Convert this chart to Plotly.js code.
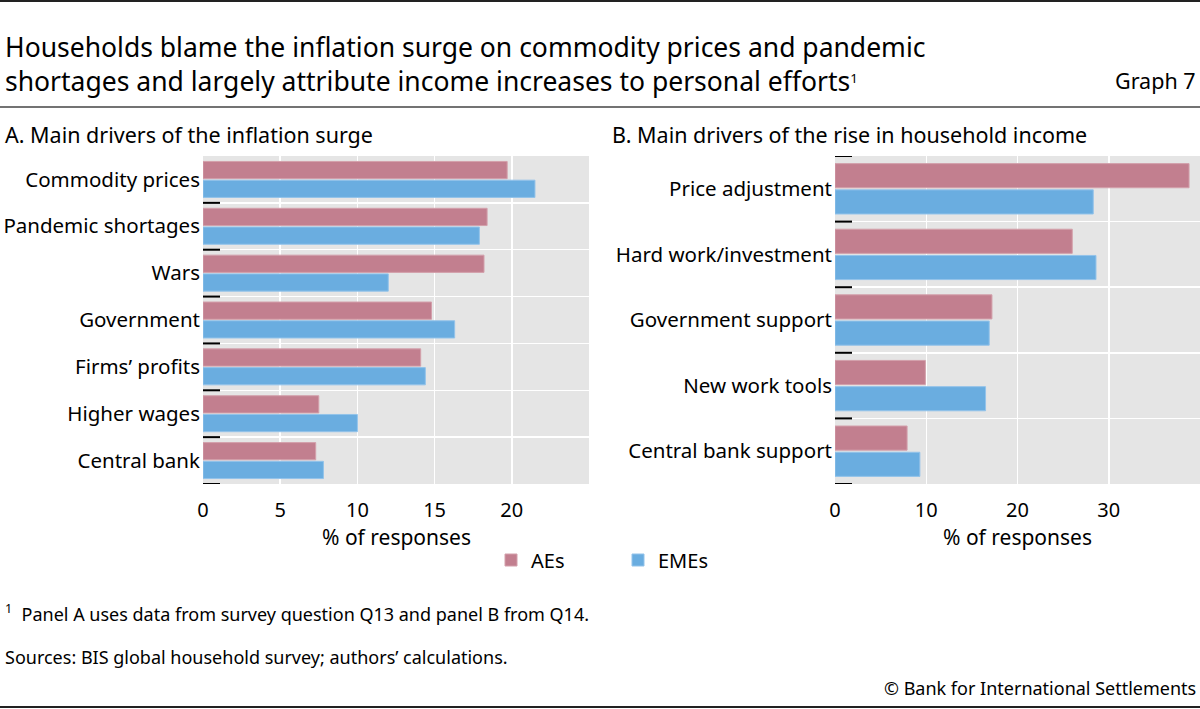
<!DOCTYPE html>
<html>
<head>
<meta charset="utf-8">
<script src="https://cdn.plot.ly/plotly-3.0.1.min.js"></script>
<style>html,body{margin:0;padding:0;background:#fff;}#chart{width:1200px;height:709px;}</style>
</head>
<body>
<div id="chart"></div>
<script>
// ---- data ----
var catsA = ['Commodity prices', 'Pandemic shortages', 'Wars', 'Government', 'Firms\u2019 profits', 'Higher wages', 'Central bank'];
var aeA   = [19.7, 18.4, 18.2, 14.8, 14.1, 7.5, 7.3];
var emeA  = [21.5, 17.9, 12.0, 16.3, 14.4, 10.0, 7.8];

var catsB = ['Price adjustment', 'Hard work/investment', 'Government support', 'New work tools', 'Central bank support'];
var aeB   = [38.8, 26.0, 17.2, 9.9, 7.9];
var emeB  = [28.3, 28.6, 16.9, 16.5, 9.3];

var seriesNames = ['AEs', 'EMEs'];
var ticksA = [0, 5, 10, 15, 20];
var ticksB = [0, 10, 20, 30];

// ---- styling ----
var W = 1200, H = 709;
var FONT = 'Noto Sans, Open Sans, sans-serif';
var PINK = '#c27f8f', BLUE = '#6aade0';
var PINK_LINE = '#d3a0ab', BLUE_LINE = '#93c3ea';
function px(x) { return x / W; }
function py(y) { return 1 - y / H; }

var traces = [
  {type: 'bar', orientation: 'h', y: catsA, x: aeA, name: seriesNames[0], xaxis: 'x', yaxis: 'y',
   marker: {color: PINK, line: {color: PINK_LINE, width: 1}}, legendgroup: 'ae', showlegend: true, hoverinfo: 'skip'},
  {type: 'bar', orientation: 'h', y: catsA, x: emeA, name: seriesNames[1], xaxis: 'x', yaxis: 'y',
   marker: {color: BLUE, line: {color: BLUE_LINE, width: 1}}, legendgroup: 'eme', showlegend: true, hoverinfo: 'skip'},
  {type: 'bar', orientation: 'h', y: catsB, x: aeB, name: seriesNames[0], xaxis: 'x2', yaxis: 'y2',
   marker: {color: PINK, line: {color: PINK_LINE, width: 1}}, legendgroup: 'ae', showlegend: false, hoverinfo: 'skip'},
  {type: 'bar', orientation: 'h', y: catsB, x: emeB, name: seriesNames[1], xaxis: 'x2', yaxis: 'y2',
   marker: {color: BLUE, line: {color: BLUE_LINE, width: 1}}, legendgroup: 'eme', showlegend: false, hoverinfo: 'skip'}
];

var yDom = [py(484), py(156)];
var commonX = {
  showgrid: true, gridcolor: '#ffffff', gridwidth: 1.5, zeroline: false, showline: false,
  ticks: '', ticklabelstandoff: 12, tickfont: {family: FONT, size: 20, color: '#000'}, fixedrange: true
};
var commonY = {
  type: 'category', tickson: 'boundaries', showgrid: true, gridcolor: '#ffffff', gridwidth: 1.5,
  zeroline: false, showline: false, ticks: '', ticklabelstandoff: 2,
  tickfont: {family: FONT, size: 20.5, color: '#000'}, fixedrange: true
};

var shapes = [
  {type: 'line', xref: 'paper', yref: 'paper', x0: 0, x1: 1, y0: py(1), y1: py(1), line: {color: '#222', width: 2}},
  {type: 'line', xref: 'paper', yref: 'paper', x0: 0, x1: 1, y0: py(107), y1: py(107), line: {color: '#444', width: 1.5}},
  {type: 'line', xref: 'paper', yref: 'paper', x0: 0, x1: 1, y0: py(707), y1: py(707), line: {color: '#222', width: 2}}
];
// category boundary tick marks
for (var i = 0; i < catsA.length; i++) {
  shapes.push({type: 'line', xref: 'x domain', yref: 'y', x0: 0, x1: 17 / 386, y0: i + 0.5, y1: i + 0.5,
               line: {color: '#000', width: 2}});
}
for (var j = -1; j < catsB.length; j++) {
  shapes.push({type: 'line', xref: 'x2 domain', yref: 'y2', x0: 0, x1: 17 / 365, y0: j + 0.5, y1: j + 0.5,
               line: {color: '#000', width: 2}});
}

function ann(text, x, y, xanchor, size, extra) {
  var a = {text: text, xref: 'paper', yref: 'paper', x: px(x), y: py(y), xanchor: xanchor, yanchor: 'middle',
           showarrow: false, font: {family: FONT, size: size, color: '#000'}};
  if (extra) for (var k in extra) a[k] = extra[k];
  return a;
}

var annotations = [
  ann('Households blame the inflation surge on commodity prices and pandemic', 3, 47, 'left', 26.5),
  ann('shortages and largely attribute income increases to personal efforts<span style="font-size:19px"><sup>1</sup></span>',
      3, 81, 'left', 26.5),
  ann('Graph 7', 1198, 80, 'right', 21.5),
  ann('A. Main drivers of the inflation surge', 3, 134, 'left', 21.5),
  ann('B. Main drivers of the rise in household income', 610, 134, 'left', 21.5),
  ann('% of responses', 396, 537, 'center', 21),
  ann('% of responses', 1017, 537, 'center', 21),
  ann('<sup>1</sup>  Panel A uses data from survey question Q13 and panel B from Q14.', 3, 613, 'left', 18),
  ann('Sources: BIS global household survey; authors\u2019 calculations.', 3, 657, 'left', 18),
  ann('\u00a9 Bank for International Settlements', 1198, 688, 'right', 18)
];

var layout = {
  width: W, height: H,
  margin: {l: 0, r: 0, t: 0, b: 0},
  paper_bgcolor: '#ffffff', plot_bgcolor: '#e5e5e5',
  barmode: 'group', bargap: 0.2, bargroupgap: 0.08,
  font: {family: FONT, color: '#000'},
  xaxis: Object.assign({}, commonX, {domain: [px(203), px(589)], range: [0, 25], tickvals: ticksA, anchor: 'y'}),
  yaxis: Object.assign({}, commonY, {domain: yDom, range: [catsA.length - 0.5, -0.5], anchor: 'x'}),
  xaxis2: Object.assign({}, commonX, {domain: [px(835), 1], range: [0, 40], tickvals: ticksB, anchor: 'y2'}),
  yaxis2: Object.assign({}, commonY, {domain: yDom, range: [catsB.length - 0.5, -0.5], anchor: 'x2'}),
  showlegend: true,
  legend: {orientation: 'h', x: px(491), y: py(560), xanchor: 'left', yanchor: 'middle',
           font: {family: FONT, size: 20, color: '#000'}, bgcolor: 'rgba(0,0,0,0)',
           entrywidth: 82, entrywidthmode: 'pixels', traceorder: 'normal'},
  shapes: shapes,
  annotations: annotations
};

Plotly.newPlot('chart', traces, layout, {displayModeBar: false, staticPlot: true});
</script>
</body>
</html>
